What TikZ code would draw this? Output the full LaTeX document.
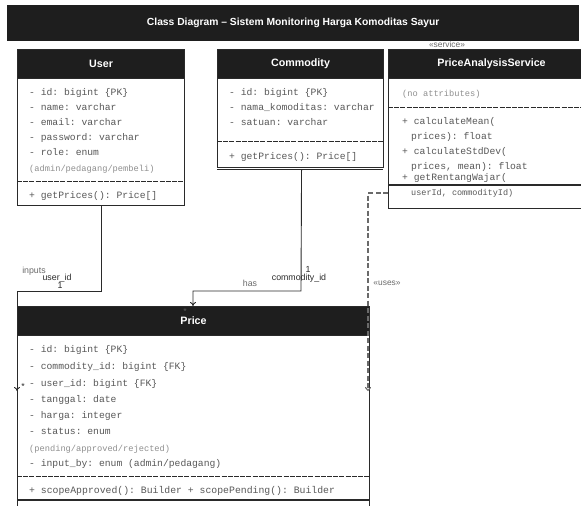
\documentclass[tikz,border=0pt]{standalone}
\usepackage{fontspec}
\setmainfont{Liberation Sans}
\setmonofont{Liberation Mono}
\usetikzlibrary{arrows.meta}
\definecolor{hdr}{HTML}{1E1E1E}
\definecolor{bord}{HTML}{2A2A2A}
\definecolor{attr}{HTML}{585858}
\definecolor{note}{HTML}{8F8F8F}
\definecolor{lbl}{HTML}{6A6A6A}
\begin{document}
\begin{tikzpicture}[x=1pt,y=-1pt,
  boxframe/.style={draw=bord, line width=1.1pt, fill=white, inner sep=0pt, anchor=north west},
  headbar/.style={fill=hdr, draw=bord, line width=1.1pt, anchor=north west, inner sep=0pt, text=white,
    font=\fontsize{10.7}{12}\selectfont\bfseries},
  mono/.style={anchor=base west, inner sep=0pt, text=attr, font=\ttfamily\fontsize{9.7}{11}\selectfont},
  monosmall/.style={anchor=base west, inner sep=0pt, text=note, font=\ttfamily\fontsize{8.7}{10}\selectfont},
  divider/.style={draw=bord, line width=1pt, dash pattern=on 5pt off 1.2pt},
  rule/.style={draw=bord, line width=1.1pt},
  conn/.style={draw=bord, line width=0.9pt},
  arrowend/.style={-{To[length=4pt,width=6pt]}},
  dep/.style={draw=lbl, line width=1.1pt, dash pattern=on 5pt off 2.5pt},
  lab/.style={inner sep=0pt, font=\fontsize{8.8}{10}\selectfont, text=bord},
  labgray/.style={inner sep=0pt, font=\fontsize{8.8}{10}\selectfont, text=lbl},
  stereo/.style={inner sep=0pt, font=\fontsize{8.4}{10}\selectfont, text=lbl},
]
\useasboundingbox (0,0) rectangle (581,506);
\clip (0,0) rectangle (581,506);

% title
\node[fill=hdr, minimum width=572pt, minimum height=36pt, anchor=north west, inner sep=0pt,
  text=white, font=\fontsize{10.3}{12}\selectfont\bfseries] (title) at (7,5)
  {Class Diagram -- Sistem Monitoring Harga Komoditas Sayur};

% ---------- User ----------
\node[boxframe, minimum width=167pt, minimum height=156pt] (user) at (17,49) {};
\node[headbar, minimum width=167pt, minimum height=29pt] (userh) at (17,49) {User};
\node[mono] (u1) at (29,95) {- id: bigint \{PK\}};
\node[mono] (u2) at (29,110) {- name: varchar};
\node[mono] (u3) at (29,125) {- email: varchar};
\node[mono] (u4) at (29,140) {- password: varchar};
\node[mono] (u5) at (29,155) {- role: enum};
\node[monosmall] (u6) at (29,171) {(admin/pedagang/pembeli)};
\draw[divider] (17,181) -- (184,181);
\node[mono] (u7) at (29,198) {+ getPrices(): Price[]};

% ---------- Commodity ----------
\node[boxframe, minimum width=166pt, minimum height=118pt] (comm) at (217,49) {};
\node[headbar, minimum width=166pt, minimum height=29pt] (commh) at (217,49) {Commodity};
\node[mono] (c1) at (229,95) {- id: bigint \{PK\}};
\node[mono] (c2) at (229,110) {- nama\_komoditas: varchar};
\node[mono] (c3) at (229,125) {- satuan: varchar};
\draw[divider] (217,141) -- (383,141);
\node[mono] (c4) at (229,159) {+ getPrices(): Price[]};
\draw[rule, line width=0.8pt] (217,169) -- (383,169);

% ---------- PriceAnalysisService ----------
\node[stereo] (ster) at (447,44) {«service»};
\node[boxframe, minimum width=206pt, minimum height=159pt] (pas) at (388,49) {};
\node[headbar, minimum width=206pt, minimum height=29pt] (pash) at (388,49) {PriceAnalysisService};
\node[monosmall] (p0) at (402,96) {(no attributes)};
\draw[divider] (388,107) -- (594,107);
\node[mono] (p1) at (402,124) {+ calculateMean(};
\node[mono] (p2) at (411,139) {prices): float};
\node[mono] (p3) at (402,154) {+ calculateStdDev(};
\node[mono] (p4) at (411,169) {prices, mean): float};
\node[mono] (p5) at (402,180) {+ getRentangWajar(};
\draw[rule] (388,185) -- (594,185);
\node[mono, font=\ttfamily\fontsize{8.5}{10}\selectfont] (p6) at (411,195) {userId, commodityId)};

% ---------- Price ----------
\node[boxframe, minimum width=352pt, minimum height=220pt] (price) at (17,306) {};
\node[headbar, minimum width=352pt, minimum height=29pt] (priceh) at (17,306) {Price};
\node[mono] (r1) at (29,352) {- id: bigint \{PK\}};
\node[mono] (r2) at (29,369) {- commodity\_id: bigint \{FK\}};
\node[mono] (r3) at (29,386) {- user\_id: bigint \{FK\}};
\node[mono] (r4) at (29,402) {- tanggal: date};
\node[mono] (r5) at (29,418) {- harga: integer};
\node[mono] (r6) at (29,434) {- status: enum};
\node[monosmall] (r7) at (29,451) {(pending/approved/rejected)};
\node[mono] (r8) at (29,466) {- input\_by: enum (admin/pedagang)};
\draw[divider] (17,476) -- (369,476);
\node[mono, font=\ttfamily\fontsize{9.8}{11}\selectfont] (r9) at (29,493)
  {+ scopeApproved(): Builder + scopePending(): Builder};
\draw[rule] (17,500) -- (369,500);

% ---------- connectors ----------
\coordinate (uin) at (17,391);
\coordinate (cin) at (193,306);
\coordinate (sin) at (368,391);
\coordinate (sout) at (388,193);

\draw[conn, arrowend] (user.south) |- (17,291) -- (uin);
\draw[conn, arrowend] (comm.south) ++(1,2) -- (301,291) -| (cin);
\draw[dep, arrowend] (sout) -| (sin);

% labels
\node[labgray] (linputs) at (34,271) {inputs};
\node[lab] (luid) at (57,278) {user\_id};
\node[lab] (lone1) at (60,285) {1};
\node[lab] (lstar1) at (23,386) {*};
\node[lab] (lone2) at (308,269) {1};
\node[lab] (lcid) at (299,278) {commodity\_id};
\node[labgray] (lhas) at (250,283) {has};
\node[lab, text=attr] (lstar2) at (185,311) {*};
\node[stereo] (luses) at (387,283) {«uses»};
\end{tikzpicture}
\end{document}
